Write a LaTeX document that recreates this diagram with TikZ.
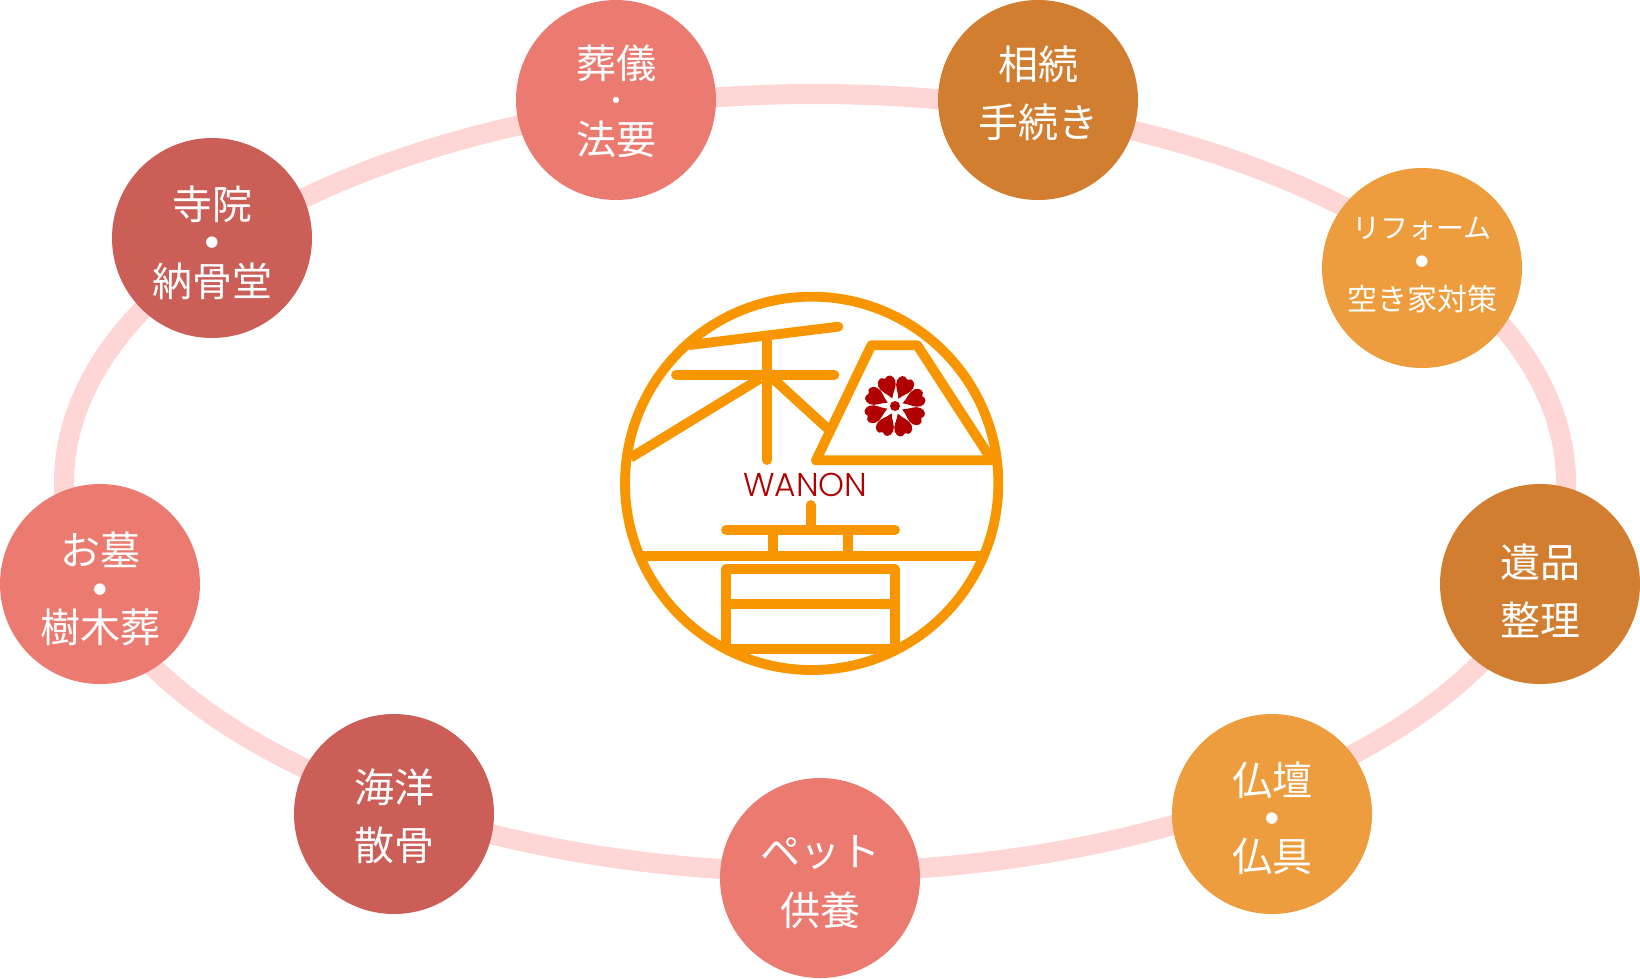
\documentclass[tikz,border=0pt]{standalone}
\usepackage{fontspec}
\newfontfamily\cjk{Noto Sans CJK JP}
\newfontfamily\dotf{DejaVu Sans}
\newfontfamily\wfont{Poppins Light}
\definecolor{ringc}{HTML}{FFD6D6}
\definecolor{pinkc}{HTML}{EB7B71}
\definecolor{rosec}{HTML}{CB5E57}
\definecolor{brownc}{HTML}{D27E30}
\definecolor{orangec}{HTML}{EE9D3E}
\definecolor{logoc}{HTML}{F79600}
\definecolor{redc}{HTML}{B00000}
\tikzset{
  bub/.style={circle,minimum size=200pt,inner sep=0pt,fill=#1},
  lab/.style={text=white,inner sep=0pt,font=\cjk\fontsize{40}{40}\selectfont,text height=35.2pt,text depth=4.8pt},
  labm/.style={text=white,inner sep=0pt,font=\cjk\fontsize{30}{30}\selectfont,text height=26.4pt,text depth=3.6pt},
  labs/.style={text=white,inner sep=0pt,font=\cjk\fontsize{28}{28}\selectfont,text height=24.6pt,text depth=3.4pt},
  dotl/.style={text=white,inner sep=0pt,font=\dotf\fontsize{15}{15}\selectfont},
  dots/.style={text=white,inner sep=0pt,font=\dotf\fontsize{8}{8}\selectfont},
  logo/.style={draw=logoc,line width=9.8pt,line cap=round,line join=round},
  logob/.style={draw=logoc,line width=9.8pt,line cap=butt,line join=round}
}
\begin{document}
\begin{tikzpicture}[x=1pt,y=-1pt]
\useasboundingbox (0,0) rectangle (1640,978);
\draw[ringc,line width=20pt] (815,483) ellipse [x radius=751,y radius=389];
% bubbles
\node[bub=pinkc]   (soug) at (616,100) {};
\node[bub=brownc]  (sozo) at (1038,100) {};
\node[bub=orangec] (refo) at (1422,268) {};
\node[bub=brownc]  (ihin) at (1540,584) {};
\node[bub=orangec] (butu) at (1272,814) {};
\node[bub=pinkc]   (pett) at (820,878) {};
\node[bub=rosec]   (kaiy) at (394,814) {};
\node[bub=pinkc]   (ohak) at (100,584) {};
\node[bub=rosec]   (jiin) at (212,238) {};
% labels
\node[lab]  (a1) at (616,63) {葬儀};
\node[dots] (a2) at (616,100.5) {●};
\node[lab]  (a3) at (616,139) {法要};
\node[lab]  (b1) at (1038,64) {相続};
\node[lab]  (b2) at (1038,122) {手続き};
\node[labs] (c1) at (1422,228) {リフォーム};
\node[dotl] (c2) at (1422,262) {●};
\node[labm] (c3) at (1422,299) {空き家対策};
\node[lab]  (d1) at (1540,562) {遺品};
\node[lab]  (d2) at (1540,620) {整理};
\node[lab]  (e1) at (1272,780) {仏壇};
\node[dotl] (e2) at (1272,819) {●};
\node[lab]  (e3) at (1272,856) {仏具};
\node[lab]  (f1) at (820,851) {ペット};
\node[lab]  (f2) at (820,910) {供養};
\node[lab]  (g1) at (394,787) {海洋};
\node[lab]  (g2) at (394,845) {散骨};
\node[lab]  (h1) at (100,550) {お墓};
\node[dotl] (h2) at (100,590) {●};
\node[lab]  (h3) at (100,627) {樹木葬};
\node[lab]  (i1) at (212,204) {寺院};
\node[dotl] (i2) at (212,243) {●};
\node[lab]  (i3) at (212,281) {納骨堂};
% logo, in zoom coordinates
\begin{scope}[shift={(600,270)},scale=1/3]
  \draw[logo] (635,640) circle [radius=560];
  \draw[logo] (270,225) -- (715,170);
  \draw[logo] (228,314) -- (703,314);
  \draw[logo] (502,215) -- (502,570);
  \draw[logob] (92,563) -- (480,326);
  \draw[logob] (518,325) -- (682,475);
  \draw[logo] (648,571) -- (814,226) -- (952,226) -- (1176,571) -- cycle;
  \draw[logob] (1176,571) -- (1190,571);
  \draw[logo] (632,705) -- (632,780);
  \draw[logo] (378,780) -- (885,780);
  \draw[logob] (520,780) -- (520,857);
  \draw[logob] (743,780) -- (743,857);
  \draw[logob] (118,857) -- (1152,857);
  \draw[logo] (378,1136) -- (378,897) -- (885,897) -- (885,1136) -- cycle;
  \draw[logob] (378,1003) -- (885,1003);
  \fill[redc] (885,408) circle [radius=15];
  \foreach \a in {110,65,20,-25,-70,-115,-160,155}
    \fill[redc,shift={(885,408)},rotate=\a] (24,0) .. controls (42,-8) and (54,-27) .. (72,-27) .. controls (88,-27) and (100,-13) .. (87,0) .. controls (100,13) and (88,27) .. (72,27) .. controls (54,27) and (42,8) .. (24,0) -- cycle;
  \node[text=redc,inner sep=0pt,font=\wfont\fontsize{33}{33}\selectfont] (wanon) at (616,645) {WANON};
\end{scope}
\end{tikzpicture}
\end{document}
